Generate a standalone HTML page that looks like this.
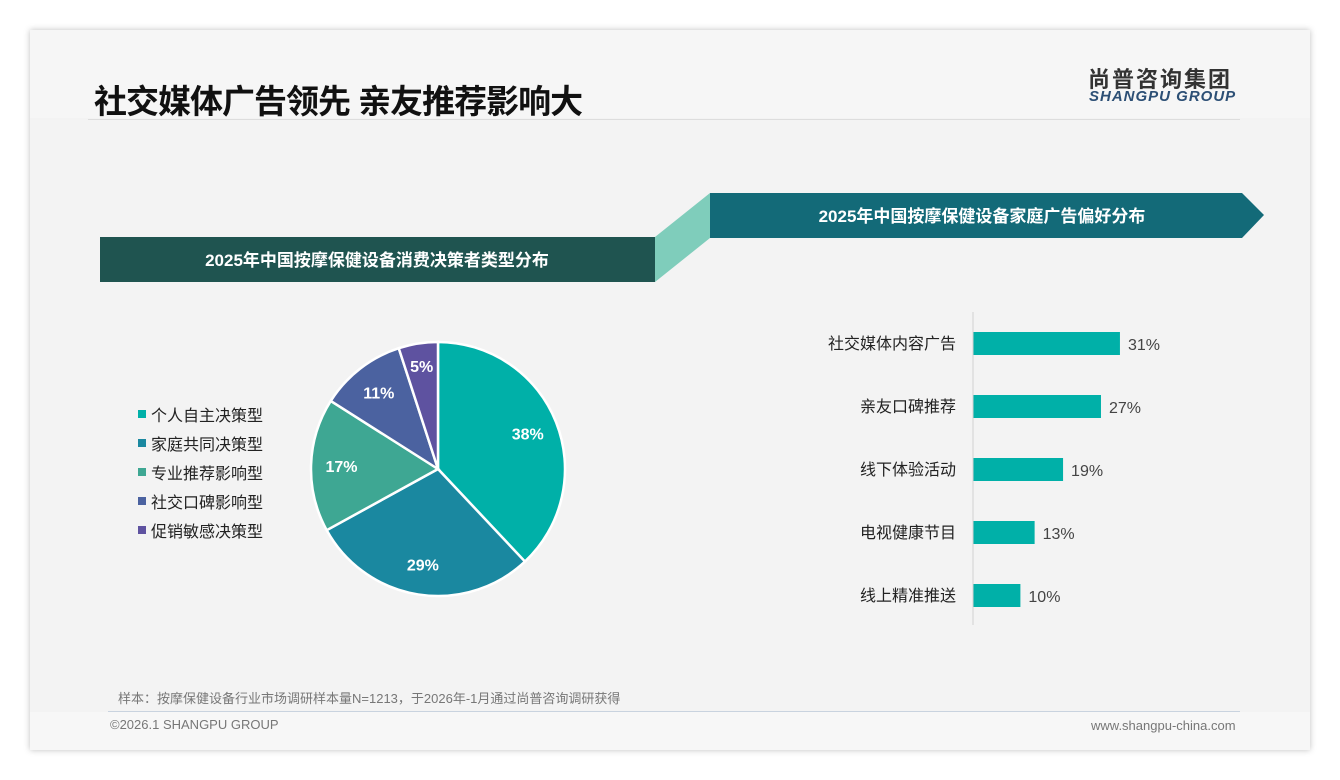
<!DOCTYPE html>
<html><head><meta charset="utf-8"><style>
body{margin:0;width:1340px;height:780px;background:#fff;position:relative;font-family:"Liberation Sans","Noto Sans CJK SC",sans-serif;overflow:hidden}
.card{position:absolute;left:30px;top:30px;width:1280px;height:720px;background:#f3f3f3;box-shadow:0 0 6px rgba(0,0,0,.25)}
.abs{position:absolute}
</style></head><body>
<div class="card">
 <div class="abs" style="left:0;top:0;width:1280px;height:88px;background:#f6f6f6"></div>
 <div class="abs" style="left:64px;top:45px;font-size:33px;font-weight:bold;color:#111;letter-spacing:-1px">社交媒体广告领先 亲友推荐影响大</div>
 <div class="abs" style="left:1058px;top:32px;font-size:22px;font-weight:bold;color:#333;letter-spacing:2px">尚普咨询集团</div>
 <div class="abs" style="left:1059px;top:58px;font-size:15px;font-weight:bold;font-style:italic;color:#2c4f75;letter-spacing:1px">SHANGPU GROUP</div>
 <div class="abs" style="left:58px;top:89px;width:1152px;height:1px;background:#ddd"></div>
 <div class="abs" style="left:0;top:682px;width:1280px;height:38px;background:#f7f7f7"></div>
 <div class="abs" style="left:78px;top:681px;width:1132px;height:1px;background:#c9d3df"></div>
 <div class="abs" style="left:88px;top:658px;font-size:13px;color:#777">样本：按摩保健设备行业市场调研样本量N=1213，于2026年-1月通过尚普咨询调研获得</div>
 <div class="abs" style="left:80px;top:687px;font-size:13px;color:#777">©2026.1 SHANGPU GROUP</div>
 <div class="abs" style="left:1061px;top:688px;font-size:13px;color:#777">www.shangpu-china.com</div>
</div>
<svg class="abs" style="left:0;top:0" width="1340" height="780">
 <polygon points="655,237 710,193 710,238 655,282" fill="#7fcdbb"/>
 <rect x="100" y="237" width="555" height="45" fill="#1f5450"/>
 <text x="377" y="266" text-anchor="middle" font-size="17" font-weight="bold" fill="#fff" font-family="Liberation Sans,Noto Sans CJK SC,sans-serif">2025年中国按摩保健设备消费决策者类型分布</text>
 <polygon points="710,193 1242,193 1264,215 1242,238 710,238" fill="#136a78"/>
 <text x="982" y="222" text-anchor="middle" font-size="17" font-weight="bold" fill="#fff" font-family="Liberation Sans,Noto Sans CJK SC,sans-serif">2025年中国按摩保健设备家庭广告偏好分布</text>
 <g id="pie"></g><g id="legend"></g><g id="bars"></g>
 <line x1="973" y1="312" x2="973" y2="625" stroke="#d0d0d0"/>
</svg>
<script>
const pieLabels=["个人自主决策型","家庭共同决策型","专业推荐影响型","社交口碑影响型","促销敏感决策型"];
const pieValues=[38,29,17,11,5];
const pieColors=["#00b0a8","#1a88a0","#3ea793","#4b62a0","#5e52a0"];
const barLabels=["社交媒体内容广告","亲友口碑推荐","线下体验活动","电视健康节目","线上精准推送"];
const barValues=[31,27,19,13,10];
const NS="http://www.w3.org/2000/svg";
function mk(t,a,p){const e=document.createElementNS(NS,t);for(const k in a)e.setAttribute(k,a[k]);p.appendChild(e);return e;}
const cx=438,cy=469,R=127;
const pie=document.getElementById('pie');
const tot=pieValues.reduce((a,b)=>a+b,0);
let ang=0;
pieValues.forEach((v,i)=>{
 const a0=ang/tot*2*Math.PI,a1=(ang+v)/tot*2*Math.PI;ang+=v;
 const p=(a)=>[cx+R*Math.sin(a),cy-R*Math.cos(a)];
 const [x0,y0]=p(a0),[x1,y1]=p(a1);
 const s=mk('path',{d:`M${cx},${cy}L${x0},${y0}A${R},${R} 0 ${a1-a0>Math.PI?1:0} 1 ${x1},${y1}Z`,fill:pieColors[i],stroke:'#fff','stroke-width':2.5},pie);
 
 
 const am=(a0+a1)/2,lr=v<8?0.82*R:0.76*R;
 const t=mk('text',{x:cx+lr*Math.sin(am),y:cy-lr*Math.cos(am)+6,'text-anchor':'middle','font-size':16,'font-weight':'bold',fill:'#fff','font-family':'Liberation Sans,sans-serif'},pie);
 t.textContent=v+'%';
 
 
});
const lg=document.getElementById('legend');
pieLabels.forEach((l,i)=>{
 const y=415+i*29;
 const r=mk('rect',{x:138,y:y-5,width:8,height:8,fill:pieColors[i]},lg);
 
 
 const t=mk('text',{x:151,y:y+6,'font-size':16,fill:'#222','font-family':'Liberation Sans,Noto Sans CJK SC,sans-serif'},lg);
 t.textContent=l;
 
 
});
const bg=document.getElementById('bars');
const x0=973,k=4.74;
barLabels.forEach((l,i)=>{
 const cyb=343+i*63;
 const r=mk('rect',{x:x0,y:cyb-11,width:barValues[i]*k,height:23,fill:'#00b0a8'},bg);
 
 
 const t=mk('text',{x:956,y:cyb+6,'text-anchor':'end','font-size':16,fill:'#222','font-family':'Liberation Sans,Noto Sans CJK SC,sans-serif'},bg);
 t.textContent=l;
 
 
 const v=mk('text',{x:x0+barValues[i]*k+8,y:cyb+7,'font-size':16,fill:'#444','font-family':'Liberation Sans,sans-serif'},bg);
 v.textContent=barValues[i]+'%';
 
 
});
</script>
</body></html>
